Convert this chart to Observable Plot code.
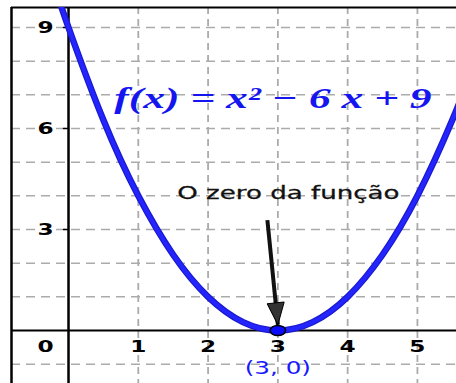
<!DOCTYPE html>
<html>
<head>
<meta charset="utf-8">
<script src="https://cdn.jsdelivr.net/npm/d3@7"></script>
<script src="https://cdn.jsdelivr.net/npm/@observablehq/plot@0.6"></script>
<style>
  html, body { margin: 0; padding: 0; background: #fff; }
</style>
</head>
<body>
<div id="chart"></div>
<script>
// ---- data ----
const xDomain = [-0.817, 5.56];
const yDomain = [-1.574, 9.594];
const gridX = [1, 2, 3, 4, 5];
const gridY = [-1, 1, 2, 3, 4, 5, 6, 7, 8, 9];
const xTicks = [1, 2, 3, 4, 5];
const xTickLabels = ["1", "2", "3", "4", "5"];
const yTicks = [3, 6, 9];
const yTickLabels = ["3", "6", "9"];
const originLabel = ["0"];
const curveX = [-0.2, 0, 0.5, 1, 1.5, 2, 2.5, 3, 3.5, 4, 4.5, 5, 5.5, 5.8];
const curveY = [10.24, 9, 6.25, 4, 2.25, 1, 0.25, 0, 0.25, 1, 2.25, 4, 6.25, 7.84];
const zeroX = [3];
const zeroY = [0];
const zeroLabel = ["(3, 0)"];
const arrowFrom = [2.85, 3.28];
const arrowTo = [3.0, 0.17];
const noteText = ["O zero da função"];
const notePos = [3.15, 4.07];
const formulaText = ["f(x) = x² − 6 x + 9"];
const formulaPos = [2.93, 6.9];

const curve = curveX.map((x, i) => ({x, y: curveY[i]}));

const tickShape = {draw(ctx, l) { ctx.moveTo(0, 0); ctx.lineTo(0, -l); }};
const ellipseSymbol = {draw(ctx, size) {
  const r = Math.sqrt(size / Math.PI), rx = r * 1.55, ry = r, k = 0.5523;
  ctx.moveTo(rx, 0);
  ctx.bezierCurveTo(rx, ry * k, rx * k, ry, 0, ry);
  ctx.bezierCurveTo(-rx * k, ry, -rx, ry * k, -rx, 0);
  ctx.bezierCurveTo(-rx, -ry * k, -rx * k, -ry, 0, -ry);
  ctx.bezierCurveTo(rx * k, -ry, rx, -ry * k, rx, 0);
  ctx.closePath();
}};
function triangleMarker(color, context) {
  const m = d3.create("svg:marker")
    .attr("viewBox", "-23 -10 25 20")
    .attr("markerWidth", 25).attr("markerHeight", 20)
    .attr("markerUnits", "userSpaceOnUse")
    .attr("refX", 0).attr("refY", 0)
    .attr("orient", "auto");
  m.append("path").attr("d", "M-22,-8.5L0,0L-22,8.5Z")
    .attr("fill", "#333").attr("stroke", "#000").attr("stroke-width", 1);
  return m.node();
}

const plot = Plot.plot({
  width: 456,
  height: 383,
  marginLeft: 11, marginTop: 7, marginRight: 0, marginBottom: 0,
  x: {domain: xDomain, axis: null},
  y: {domain: yDomain, axis: null},
  style: {background: "#fff", overflow: "visible"},
  marks: [
    Plot.ruleY(gridY, {stroke: "#ababab", strokeWidth: 1.5, strokeDasharray: "9,6"}),
    Plot.ruleX(gridX, {stroke: "#ababab", strokeWidth: 1.8, strokeDasharray: "7,5"}),
    Plot.ruleX([0], {stroke: "#000", strokeWidth: 2.5}),
    Plot.ruleY([0], {stroke: "#000", strokeWidth: 2}),
    Plot.ruleX([xDomain[0]], {stroke: "#000", strokeWidth: 2.5}),
    Plot.ruleY([yDomain[1]], {stroke: "#000", strokeWidth: 2}),
    Plot.vector(yTicks, {x: 0, y: d => d, length: 5, rotate: -90, anchor: "start", shape: tickShape, stroke: "#000", strokeWidth: 1.5}),
    Plot.line(curve, {x: "x", y: "y", curve: "natural", stroke: "#1a1acc", strokeWidth: 6.5, clip: true}),
    Plot.line(curve, {x: "x", y: "y", curve: "natural", stroke: "#2424ff", strokeWidth: 4, clip: true}),
    Plot.link([0], {x1: () => arrowFrom[0], y1: () => arrowFrom[1], x2: () => arrowTo[0], y2: () => arrowTo[1], stroke: "#111", strokeWidth: 4, markerEnd: triangleMarker}),
    Plot.dot(zeroX, {x: d => d, y: (d, i) => zeroY[i], r: 5, symbol: ellipseSymbol, fill: "#0a0aff", stroke: "#000", strokeWidth: 1.5}),
    Plot.text(xTickLabels, {x: (d, i) => xTicks[i], y: 0, text: d => d, dy: 16, fontFamily: "DejaVu Sans", fontWeight: "bold", fontSize: 16, fill: "#000"}),
    Plot.text(yTickLabels, {x: 0, y: (d, i) => yTicks[i], text: d => d, dx: -23, fontFamily: "DejaVu Sans", fontWeight: "bold", fontSize: 16, fill: "#000"}),
    Plot.text(originLabel, {x: 0, y: 0, text: d => d, dx: -23, dy: 16, fontFamily: "DejaVu Sans", fontWeight: "bold", fontSize: 16, fill: "#000"}),
    Plot.text(zeroLabel, {x: d => zeroX[0], y: d => zeroY[0], text: d => d, dy: 38, fontFamily: "DejaVu Sans", fontSize: 17, fill: "#1a1aff"}),
    Plot.text(noteText, {x: () => notePos[0], y: () => notePos[1], text: d => d, fontFamily: "DejaVu Sans", fontSize: 18, fill: "#111", stroke: "#111", strokeWidth: 0.3}),
    Plot.text(formulaText, {x: () => formulaPos[0], y: () => formulaPos[1], text: d => d, fontFamily: "Liberation Serif", fontWeight: "bold", fontStyle: "italic", fontSize: 30, fill: "#1515f0"})
  ]
});
document.getElementById("chart").appendChild(plot);

// horizontal stretch of text glyphs (the reference is drawn wide)
const stretch = 1.45;
d3.select(plot).selectAll("text").each(function () {
  const bb = this.getBBox();
  const cx = bb.x + bb.width / 2;
  const t = this.getAttribute("transform") || "";
  this.setAttribute("transform", `${t} translate(${cx},0) scale(${stretch},1) translate(${-cx},0)`);
});
</script>
</body>
</html>
